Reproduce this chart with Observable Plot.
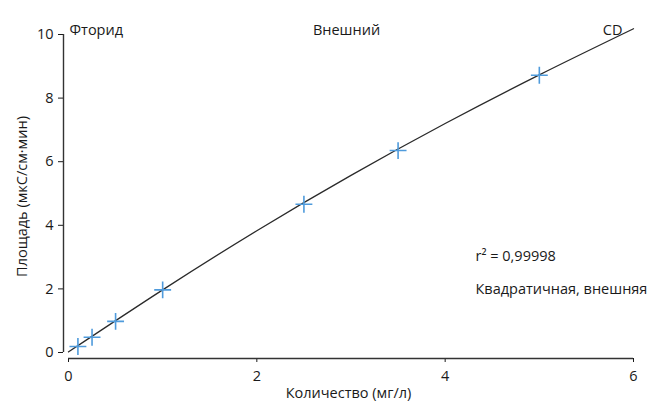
<!DOCTYPE html>
<html>
<head>
<meta charset="utf-8">
<script src="https://cdn.jsdelivr.net/npm/d3@7"></script>
<script src="https://cdn.jsdelivr.net/npm/@observablehq/plot@0.6"></script>
<style>
  html, body { margin: 0; padding: 0; background: #fff; }
  #chart { width: 658px; height: 401px; }
</style>
</head>
<body>
<div id="chart"></div>
<script>
// Calibration standards (measured points)
const amount = [0.1, 0.25, 0.5, 1.0, 2.5, 3.5, 5.0];
const area   = [0.19, 0.48, 0.98, 1.97, 4.66, 6.35, 8.72];

// Fitted quadratic curve
const curveX = [0, 1, 2, 3, 4, 5, 6];
const curveY = [0.02, 1.97, 3.83, 5.57, 7.2, 8.73, 10.18];

const xTicks = [0, 2, 4, 6];
const yTicks = [0, 2, 4, 6, 8, 10];

const headers = ["Фторид", "Внешний", "CD"];
const fitNotes = ["r² = 0,99998", "Квадратичная, внешняя"];
const xLabel = "Количество (мг/л)";
const yLabel = "Площадь (мкС/см·мин)";

const points = amount.map((x, i) => ({x, y: area[i]}));
const curve = curveX.map((x, i) => ({x, y: curveY[i]}));

const font = "'Open Sans', sans-serif";
const fs = 14.5;

const chart = Plot.plot({
  width: 658,
  height: 401,
  marginLeft: 63,
  marginRight: 25,
  marginTop: 34,
  marginBottom: 43,
  style: {fontFamily: font, fontSize: fs + "px", color: "#1a1a1a", background: "#fff", overflow: "visible"},
  x: {domain: [0, 6], insetLeft: 5, ticks: xTicks},
  y: {domain: [0, 10], insetBottom: 6, ticks: yTicks},
  marks: [
    Plot.axisX({ticks: xTicks, tickFormat: "d", tickSize: 4, tickPadding: 8, label: xLabel, labelAnchor: "center", labelArrow: "none", labelOffset: 39, fontSize: fs}),
    Plot.axisY({ticks: yTicks, tickFormat: "d", tickSize: 5, tickPadding: 5, label: yLabel, labelAnchor: "center", labelArrow: "none", labelOffset: 47, fontSize: fs}),
    Plot.ruleY([0], {x1: 0, x2: 6, dy: 6, stroke: "#333", strokeWidth: 1.4}),
    Plot.ruleX([0], {y1: 0, y2: 10, dx: -5, stroke: "#333", strokeWidth: 1.4}),
    Plot.line(curve, {x: "x", y: "y", curve: "natural", stroke: "#2a2a2a", strokeWidth: 1.3}),
    Plot.dot(points, {x: "x", y: "y", symbol: "plus", r: 5.5, stroke: "#4f9bdc", strokeWidth: 1.6}),
    Plot.text([headers[0]], {text: d => d, frameAnchor: "top-left", textAnchor: "start", dx: 6, dy: -10, fontSize: fs, fill: "#1a1a1a"}),
    Plot.text([headers[1]], {text: d => d, frameAnchor: "top", dx: -2, dy: -10, fontSize: fs, fill: "#1a1a1a"}),
    Plot.text([headers[2]], {text: d => d, frameAnchor: "top-right", textAnchor: "end", dx: -11, dy: -10, fontSize: fs, fill: "#1a1a1a"}),
    Plot.text([fitNotes[0]], {text: d => d, frameAnchor: "top-left", textAnchor: "start", dx: 412, dy: 216, fontSize: fs, fill: "#1a1a1a"}),
    Plot.text([fitNotes[1]], {text: d => d, frameAnchor: "top-left", textAnchor: "start", dx: 412, dy: 249, fontSize: fs, fill: "#1a1a1a"})
  ]
});
document.getElementById("chart").appendChild(chart);
</script>
</body>
</html>
